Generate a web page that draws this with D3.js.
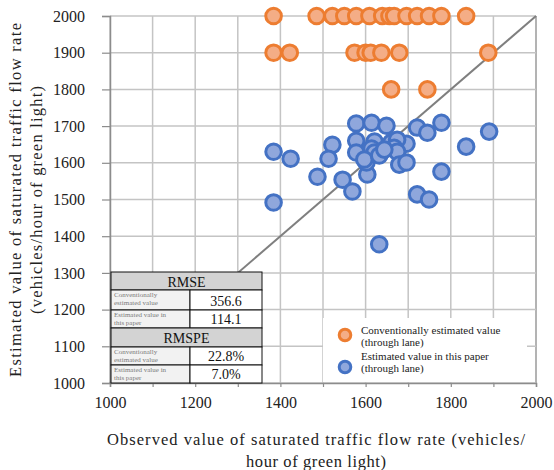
<!DOCTYPE html>
<html>
<head>
<meta charset="utf-8">
<script src="https://cdn.jsdelivr.net/npm/d3@7"></script>
<style>
  html, body { margin: 0; padding: 0; background: #fff; }
  svg { display: block; }
  text { font-family: "Liberation Serif", "Times New Roman", Times, serif; }
</style>
</head>
<body>
<svg id="chart" width="554" height="470"></svg>
<script>
// Axis ticks
const xTicks = [1000, 1200, 1400, 1600, 1800, 2000];
const yTicks = [1000, 1100, 1200, 1300, 1400, 1500, 1600, 1700, 1800, 1900, 2000];
const gridValues = [1000, 1100, 1200, 1300, 1400, 1500, 1600, 1700, 1800, 1900, 2000];

// Conventionally estimated value (through lane): [observed, estimated]
const conventionalObserved = [1384, 1485, 1522, 1550, 1578, 1609, 1639, 1656, 1667, 1696, 1721, 1749, 1778, 1836,
                              1384, 1422, 1574, 1600, 1612, 1637, 1679, 1888,
                              1660, 1745];
const conventionalEstimated = [2000, 2000, 2000, 2000, 2000, 2000, 2000, 2000, 2000, 2000, 2000, 2000, 2000, 2000,
                               1900, 1900, 1900, 1900, 1900, 1900, 1900, 1900,
                               1800, 1800];

// Estimated value in this paper (through lane): [observed, estimated]
const paperObserved = [1578, 1614, 1649, 1721, 1745, 1778, 1890, 1522, 1578, 1621, 1660, 1696, 1674, 1836,
                       1513, 1578, 1614, 1621, 1667, 1674, 1487, 1546, 1569, 1604, 1602, 1679, 1696, 1778,
                       1721, 1749, 1632, 1384, 1424, 1384, 1597, 1632, 1644];
const paperEstimated = [1707, 1709, 1701, 1696, 1682, 1709, 1685, 1649, 1660, 1658, 1655, 1652, 1663, 1644,
                        1611, 1628, 1639, 1628, 1641, 1630, 1562, 1554, 1522, 1568, 1601, 1595, 1601, 1576,
                        1514, 1500, 1378, 1630, 1611, 1492, 1609, 1620, 1636];

// Error summary table
const tableSections = ["RMSE", "RMSPE"];
const tableRowLabels = [["Conventionally", "estimated value"], ["Estimated value in", "this paper"]];
const rmseValues = ["356.6", "114.1"];
const rmspeValues = ["22.8%", "7.0%"];

const legendLabels = [["Conventionally estimated value", "(through lane)"], ["Estimated value in this paper", "(through lane)"]];

const colors = {
  conventional: { fill: "#f4ad86", stroke: "#ed7d31" },
  paper: { fill: "#8fa7dc", stroke: "#4472c4" }
};

const serif = '"Liberation Serif", "Times New Roman", Times, serif';
const svg = d3.select("#chart");
const x = d3.scaleLinear().domain([1000, 2000]).range([110, 536]);
const y = d3.scaleLinear().domain([1000, 2000]).range([383, 16]);

// Gridlines
const grid = svg.append("g");
grid.selectAll("line.v").data(gridValues).join("line")
  .attr("x1", d => x(d)).attr("x2", d => x(d))
  .attr("y1", y(1000)).attr("y2", y(2000))
  .attr("stroke", d => d === 2000 ? "#9a9a9a" : "#c4c4c4").attr("stroke-width", 1.5);
grid.selectAll("line.h").data(gridValues).join("line")
  .attr("x1", x(1000)).attr("x2", x(2000))
  .attr("y1", d => y(d)).attr("y2", d => y(d))
  .attr("stroke", "#c4c4c4").attr("stroke-width", 1.5);

// Axes
const yAxis = svg.append("g").attr("transform", `translate(${x(1000)},0)`)
  .call(d3.axisLeft(y).tickValues(yTicks).tickSize(8).tickPadding(17).tickFormat(d3.format("d")));
const xAxis = svg.append("g").attr("transform", `translate(0,${y(1000)})`)
  .call(d3.axisBottom(x).tickValues(gridValues).tickSize(4).tickPadding(10)
    .tickFormat(d => xTicks.includes(d) ? d3.format("d")(d) : ""));
[yAxis, xAxis].forEach(a => {
  a.attr("font-family", null);
  a.selectAll("path.domain").attr("stroke", "#8c8c8c").attr("stroke-width", 1.5);
  a.selectAll(".tick line").attr("stroke", "#8c8c8c").attr("stroke-width", 1.2);
  a.selectAll("text").style("font-family", serif).attr("font-size", 16).attr("fill", "#222");
});

// 1:1 reference line
svg.append("line")
  .attr("x1", x(1000)).attr("y1", y(1000)).attr("x2", x(2000)).attr("y2", y(2000))
  .attr("stroke", "#7f7f7f").attr("stroke-width", 2);

// Points
function drawPoints(xs, ys, c) {
  svg.append("g").selectAll("circle").data(xs.map((v, i) => [v, ys[i]])).join("circle")
    .attr("cx", d => x(d[0])).attr("cy", d => y(d[1])).attr("r", 7.8)
    .attr("fill", c.fill).attr("stroke", c.stroke).attr("stroke-width", 3);
}
drawPoints(conventionalObserved, conventionalEstimated, colors.conventional);
drawPoints(paperObserved, paperEstimated, colors.paper);

// Legend
const legend = svg.append("g");
legend.append("rect").attr("x", 323).attr("y", 318).attr("width", 204).attr("height", 64).attr("fill", "#fff");
legendLabels.forEach((lines, i) => {
  const c = i === 0 ? colors.conventional : colors.paper;
  const cy = 335 + i * 32;
  legend.append("circle").attr("cx", 345).attr("cy", cy).attr("r", 5.8)
    .attr("fill", c.fill).attr("stroke", c.stroke).attr("stroke-width", 3);
  lines.forEach((t, j) => {
    legend.append("text").attr("x", 361).attr("y", cy - 1 + j * 12 - (i === 1 ? 6 : 0))
      .style("font-family", serif).attr("font-size", 11).attr("fill", "#222").text(t);
  });
});

// Error table
const table = svg.append("g");
const tx0 = 111, tx1 = 190, tx2 = 262;
const rowTops = [272, 290, 310, 328, 347, 365, 383];
table.append("rect").attr("x", tx0).attr("y", rowTops[0]).attr("width", tx2 - tx0).attr("height", rowTops[6] - rowTops[0])
  .attr("fill", "#fff");
const sectionValues = [rmseValues, rmspeValues];
tableSections.forEach((name, s) => {
  const top = rowTops[s * 3];
  table.append("rect").attr("x", tx0).attr("y", top).attr("width", tx2 - tx0).attr("height", rowTops[s * 3 + 1] - top)
    .attr("fill", "#d3d3d3").attr("stroke", "#111").attr("stroke-width", 1);
  table.append("text").attr("x", (tx0 + tx2) / 2).attr("y", top + 14.5).attr("text-anchor", "middle")
    .style("font-family", serif).attr("font-size", 14).attr("fill", "#111").text(name);
  sectionValues[s].forEach((v, r) => {
    const rt = rowTops[s * 3 + 1 + r], rb = rowTops[s * 3 + 2 + r];
    table.append("rect").attr("x", tx0).attr("y", rt).attr("width", tx1 - tx0).attr("height", rb - rt)
      .attr("fill", "#f2f2f2").attr("stroke", "#111").attr("stroke-width", 1);
    table.append("rect").attr("x", tx1).attr("y", rt).attr("width", tx2 - tx1).attr("height", rb - rt)
      .attr("fill", "#fff").attr("stroke", "#111").attr("stroke-width", 1);
    tableRowLabels[r].forEach((t, j) => {
      table.append("text").attr("x", tx0 + 3).attr("y", rt + 7 + j * 7.5)
        .style("font-family", serif).attr("font-size", 7).attr("fill", "#7a7a7a").text(t);
    });
    table.append("text").attr("x", (tx1 + tx2) / 2).attr("y", rb - 4).attr("text-anchor", "middle")
      .style("font-family", serif).attr("font-size", 14).attr("fill", "#111").text(v);
  });
});

// Axis titles
function title(parent, xPos, yPos, len, str) {
  parent.append("text").attr("x", xPos).attr("y", yPos).attr("text-anchor", "middle")
    .style("font-family", serif).attr("font-size", 16.5).attr("fill", "#222")
    .attr("textLength", len).attr("lengthAdjust", "spacing").text(str);
}
title(svg, 316, 445, 418, "Observed value of saturated traffic flow rate (vehicles/");
title(svg, 316, 467, 140, "hour of green light)");

const yTitle = svg.append("g").attr("transform", "translate(0,200) rotate(-90)");
title(yTitle, 0, 21, 354, "Estimated value of saturated traffic flow rate");
title(yTitle, 0, 42, 228, "(vehicles/hour of green light)");
</script>
</body>
</html>
